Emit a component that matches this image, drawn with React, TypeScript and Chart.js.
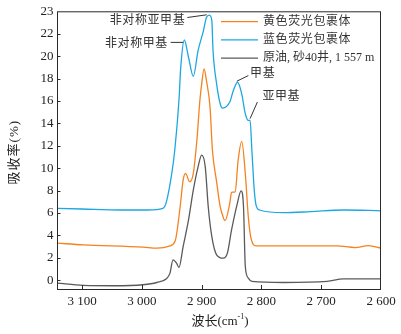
import React, { useEffect, useRef } from "react";
import { Chart, registerables } from "chart.js";

Chart.register(...registerables);

const seriesLabels = ["黄色荧光包裹体", "蓝色荧光包裹体", "原油, 砂40井, 1 557 m"];
const seriesColors = ["#F5821F", "#1DA7E2", "#5A5A5A"];

const yellowX = [3142, 3098, 2998, 2975, 2953, 2944, 2936, 2931, 2927, 2920, 2914, 2908, 2903, 2900, 2896, 2892, 2886, 2882, 2875, 2869, 2866, 2861, 2853, 2850, 2844, 2839, 2833, 2827, 2822, 2818, 2809, 2674, 2643, 2621, 2600];
const yellowY = [3.31, 3.16, 2.95, 2.86, 3.07, 3.57, 6.56, 8.93, 9.53, 8.78, 9.53, 12.49, 16.04, 17.5, 18.86, 17.82, 15.45, 11.6, 8.78, 6.56, 5.97, 5.32, 6.86, 7.84, 7.89, 10.71, 12.4, 9.53, 5.67, 3.89, 3.07, 3.07, 2.92, 3.09, 2.86];

const blueX = [3142, 3100, 3037, 2990, 2965, 2959, 2950, 2945, 2938, 2935, 2929, 2922, 2914, 2906, 2897, 2892, 2887, 2883, 2881, 2875, 2869, 2865, 2853, 2847, 2840, 2833, 2827, 2822, 2819, 2816, 2812, 2809, 2803, 2763, 2718, 2663, 2600];
const blueY = [6.42, 6.36, 6.27, 6.27, 6.42, 7.0, 9.53, 11.6, 16.04, 19.0, 21.44, 19.9, 18.2, 20.5, 22.27, 23.45, 23.66, 23.16, 20.5, 17.53, 15.75, 15.36, 15.9, 16.93, 17.67, 16.64, 14.86, 14.27, 14.27, 11.6, 8.04, 6.71, 6.27, 6.03, 6.12, 6.27, 6.2];

const crudeX = [3142, 3098, 3048, 2998, 2975, 2959, 2953, 2948, 2942, 2938, 2931, 2922, 2914, 2906, 2900, 2894, 2889, 2883, 2875, 2864, 2857, 2850, 2841, 2834, 2830, 2827, 2822, 2816, 2763, 2690, 2663, 2600];
const crudeY = [-0.25, -0.46, -0.49, -0.4, -0.2, 0.13, 0.64, 1.82, 1.53, 1.14, 3.0, 5.38, 8.04, 10.12, 11.16, 10.12, 6.56, 3.89, 2.27, 1.97, 2.42, 4.49, 6.71, 7.98, 6.56, 1.23, 0.2, -0.1, -0.2, -0.1, 0.13, 0.13];

const xTickValues = [3100, 3000, 2900, 2800, 2700, 2600];
const yTickValues = [0, 2, 4, 6, 8, 10, 12, 14, 16, 18, 20, 22, 24];
const yTickLabels = ["0", "2", "4", "6", "8", "10", "12", "14", "16", "18", "20", "22", "23"];

const xTitleMain = "波长(cm";
const xTitleSup = "-1";
const xTitleEnd = ")";
const yTitle = "吸收率(%)";

const annotations = [
  { text: "非对称亚甲基", x: 2887.2, y: 23.66, line: [-22, 2.4, -2.6, -0.3], at: [-24, 5.7], align: "right" },
  { text: "非对称甲基", x: 2929.1, y: 21.44, line: [-13.6, 2.4, -1, 2.4], at: [-16.3, 3.4], align: "right" },
  { text: "甲基", x: 2839.6, y: 17.67, line: [-1, -1, 10.6, -6.7], at: [12.3, -8.4], align: "left" },
  { text: "亚甲基", x: 2819, y: 14.27, line: [0, -1.7, 7.3, -18.3], at: [12.3, -23.3], align: "left" },
];

const SERIF = "'Liberation Serif', 'Noto Sans CJK SC', serif";

function fmtX(v: number): string {
  const th = Math.floor(v / 1000);
  const rest = String(v % 1000).padStart(3, "0");
  return `${th} ${rest}`;
}

const decor = {
  id: "decor",
  afterDraw(chart: any) {
    const { ctx, chartArea: a, scales } = chart;
    const xs = scales.x;
    const ys = scales.y;
    ctx.save();
    ctx.strokeStyle = "#2a2a2a";
    ctx.lineWidth = 1;
    ctx.strokeRect(a.left + 0.5, a.top + 0.5, a.right - a.left - 1, a.bottom - a.top);
    ctx.beginPath();
    for (const v of yTickValues) {
      const py = Math.round(ys.getPixelForValue(v)) + 0.5;
      if (py <= a.top + 2 || py >= a.bottom - 2) continue;
      ctx.moveTo(a.left, py);
      ctx.lineTo(a.left + 3.5, py);
    }
    for (const v of xTickValues) {
      const px = Math.round(xs.getPixelForValue(v)) + 0.5;
      if (px <= a.left + 2 || px >= a.right - 2) continue;
      ctx.moveTo(px, a.bottom);
      ctx.lineTo(px, a.bottom - 4);
    }
    ctx.stroke();

    // legend
    ctx.font = `12px ${SERIF}`;
    ctx.textBaseline = "middle";
    ctx.textAlign = "left";
    seriesLabels.forEach((lab, i) => {
      const y = a.top + 10.3 + i * 18.3;
      ctx.strokeStyle = seriesColors[i];
      ctx.lineWidth = 1.3;
      ctx.beginPath();
      ctx.moveTo(a.right - 160, y);
      ctx.lineTo(a.right - 123, y);
      ctx.stroke();
      ctx.fillStyle = "#333";
      (ctx as any).letterSpacing = i === 2 ? "0px" : "0.6px";
      ctx.fillText(lab, a.right - 118, y);
    });

    // annotations
    (ctx as any).letterSpacing = "0.6px";
    annotations.forEach((an) => {
      const px = xs.getPixelForValue(an.x);
      const py = ys.getPixelForValue(an.y);
      ctx.strokeStyle = "#333";
      ctx.lineWidth = 1;
      ctx.beginPath();
      ctx.moveTo(px + an.line[0], py + an.line[1]);
      ctx.lineTo(px + an.line[2], py + an.line[3]);
      ctx.stroke();
      ctx.fillStyle = "#333";
      ctx.textAlign = an.align as CanvasTextAlign;
      ctx.fillText(an.text, px + an.at[0], py + an.at[1]);
    });

    // x title
    (ctx as any).letterSpacing = "0px";
    ctx.fillStyle = "#222";
    ctx.textAlign = "left";
    ctx.textBaseline = "middle";
    const cx = (a.left + a.right) / 2 + 1;
    const ty = 322;
    ctx.font = `13px ${SERIF}`;
    const w1 = ctx.measureText(xTitleMain).width;
    const w3 = ctx.measureText(xTitleEnd).width;
    ctx.font = `8px ${SERIF}`;
    const w2 = ctx.measureText(xTitleSup).width;
    const start = cx - (w1 + w2 + w3) / 2;
    ctx.font = `13px ${SERIF}`;
    ctx.fillText(xTitleMain, start, ty);
    ctx.font = `8px ${SERIF}`;
    ctx.fillText(xTitleSup, start + w1, ty - 5);
    ctx.font = `13px ${SERIF}`;
    ctx.fillText(xTitleEnd, start + w1 + w2, ty);

    // y title
    ctx.save();
    ctx.translate(15, (a.top + a.bottom) / 2 + 2);
    ctx.rotate(-Math.PI / 2);
    ctx.textAlign = "center";
    (ctx as any).letterSpacing = "1px";
    ctx.font = `13px ${SERIF}`;
    ctx.fillText(yTitle, 0, 0);
    ctx.restore();

    ctx.restore();
  },
};

function toPoints(xs: number[], ys: number[]) {
  return xs.map((x, i) => ({ x, y: ys[i] }));
}

export default function App() {
  const ref = useRef<HTMLCanvasElement | null>(null);
  useEffect(() => {
    if (!ref.current) return;
    const chart = new Chart(ref.current, {
      type: "line",
      data: {
        datasets: [
          { label: seriesLabels[2], data: toPoints(crudeX, crudeY), borderColor: seriesColors[2] },
          { label: seriesLabels[0], data: toPoints(yellowX, yellowY), borderColor: seriesColors[0] },
          { label: seriesLabels[1], data: toPoints(blueX, blueY), borderColor: seriesColors[1] },
        ].map((d) => ({
          ...d,
          borderWidth: 1.3,
          pointRadius: 0,
          fill: false,
          cubicInterpolationMode: "monotone" as const,
        })),
      },
      options: {
        animation: false,
        responsive: false,
        maintainAspectRatio: false,
        layout: { padding: { top: 11, right: 20, left: 0, bottom: 0 } },
        plugins: { legend: { display: false }, tooltip: { enabled: false } },
        scales: {
          x: {
            type: "linear",
            reverse: true,
            min: 2600,
            max: 3142,
            grid: { display: false, drawTicks: false },
            border: { display: false },
            afterBuildTicks: (s: any) => {
              s.ticks = xTickValues.map((v) => ({ value: v }));
            },
            afterFit: (s: any) => {
              s.height = 45;
            },
            ticks: {
              autoSkip: false,
              maxRotation: 0,
              padding: 5,
              color: "#222",
              font: { family: SERIF, size: 13 },
              callback: (v: any) => fmtX(Number(v)),
            },
          },
          y: {
            type: "linear",
            min: -0.78,
            max: 24,
            grid: { display: false, drawTicks: false },
            border: { display: false },
            afterBuildTicks: (s: any) => {
              s.ticks = yTickValues.map((v) => ({ value: v }));
            },
            afterFit: (s: any) => {
              s.width = 57;
            },
            ticks: {
              autoSkip: false,
              padding: 3.5,
              color: "#222",
              font: { family: SERIF, size: 13 },
              callback: (_v: any, i: number) => yTickLabels[i],
            },
          },
        },
      },
      plugins: [decor],
    });
    return () => chart.destroy();
  }, []);
  return (
    <div style={{ position: "fixed", left: 0, top: 0, width: 401, height: 334, background: "#fff" }}>
      <canvas ref={ref} width={401} height={334} style={{ display: "block" }} />
    </div>
  );
}
